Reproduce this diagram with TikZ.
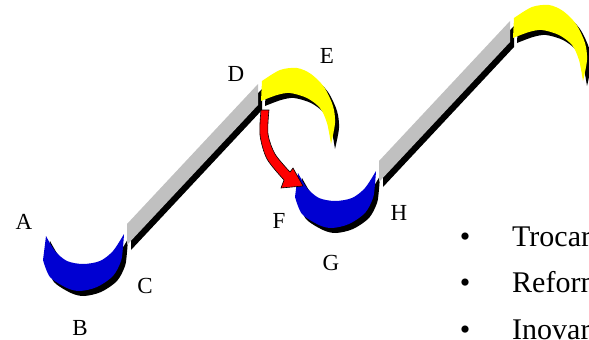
\documentclass[tikz,border=0pt]{standalone}
\usepackage{fontspec}
\setmainfont{Liberation Serif}
\definecolor{cblue}{RGB}{0,0,210}
\definecolor{cyellow}{RGB}{255,255,0}
\definecolor{cgray}{RGB}{192,192,192}
\definecolor{cred}{RGB}{255,0,0}
\newcommand\bluecres[1]{\fill[#1] plot[smooth] coordinates {(43,260) (50,277) (67,288) (80,291) (97,287) (113,276) (121,261) (123,247) (124,234)} -- plot[smooth] coordinates {(124,234) (113,251) (100,261) (83,264) (67,261) (55,251) (46,236)} -- cycle;}
\newcommand\yellowcres[1]{\fill[#1] plot[smooth] coordinates {(262,81) (280,70) (297,68) (311,74) (324,87) (333,106) (335,123) (331,144)} -- plot[smooth] coordinates {(331,144) (327,123) (320,108) (307,98) (290,93) (277,95) (261,101)} -- cycle;}
\newcommand\graybar[1]{\fill[#1] (127,224) -- (258,84) -- (258,105) -- (127,245) -- cycle;}
\begin{document}
\begin{tikzpicture}[x=1pt,y=-1pt,
  lbl/.style={anchor=base,inner sep=0pt,font=\fontsize{23}{27}\selectfont},
  itm/.style={anchor=base west,inner sep=0pt,font=\fontsize{30}{36}\selectfont},
  bul/.style={anchor=base,inner sep=0pt,font=\fontsize{30}{36}\selectfont}]
\useasboundingbox (0,0) rectangle (589,340);
\clip (0,0) rectangle (589,340);
\foreach \dx/\dy in {0/0,252/-63}{
  \begin{scope}[shift={(\dx,\dy)}]
    \begin{scope}[shift={(4,5)}]
      \graybar{black}
      \bluecres{black}
      \yellowcres{black}
    \end{scope}
    \graybar{cgray}
    \bluecres{cblue}
    \yellowcres{cyellow}
  \end{scope}
}
% red arrow
\filldraw[fill=cred,draw=black,line width=0.6pt,line join=miter]
  plot[smooth] coordinates {(261,110) (260,135) (267,159) (284,180)}
  -- (281,188) -- (303,186) -- (293,168) --
  plot[smooth] coordinates {(290,172) (275,154) (268,134) (269,110)} -- cycle;
% labels
\node[lbl] (A) at (24,229) {A};
\node[lbl] (B) at (80,335) {B};
\node[lbl] (C) at (145,293) {C};
\node[lbl] (D) at (236,81) {D};
\node[lbl] (E) at (327,63) {E};
\node[lbl] (F) at (279,228) {F};
\node[lbl] (G) at (331,270) {G};
\node[lbl] (H) at (399,220) {H};
% bullet list
\node[bul] (b1) at (465,246) {•};
\node[bul] (b2) at (465,292.5) {•};
\node[bul] (b3) at (465,339) {•};
\node[itm] (t1) at (512,246) {Trocar};
\node[itm] (t2) at (512,292.5) {Reform};
\node[itm] (t3) at (512,339) {Inovar};
\end{tikzpicture}
\end{document}
